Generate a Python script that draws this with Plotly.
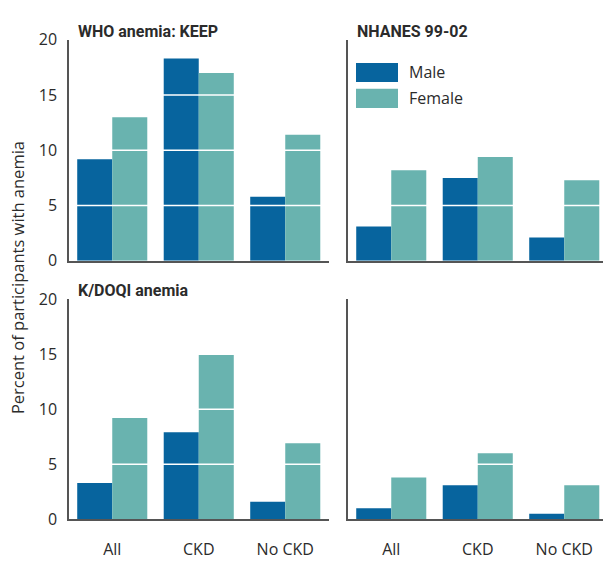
import plotly.graph_objects as go

# Prevalence of anemia (%) by sex, KEEP vs NHANES 99-02
categories = ["All", "CKD", "No CKD"]

who_keep_male = [9.2, 18.3, 5.8]
who_keep_female = [13.0, 17.0, 11.4]
who_nhanes_male = [3.1, 7.5, 2.1]
who_nhanes_female = [8.2, 9.4, 7.3]

kdoqi_keep_male = [3.3, 7.9, 1.6]
kdoqi_keep_female = [9.2, 15.0, 6.9]
kdoqi_nhanes_male = [1.0, 3.1, 0.5]
kdoqi_nhanes_female = [3.8, 6.0, 3.1]

y_ticks = [0, 5, 10, 15, 20]
grid_levels = [5, 10, 15]

panel_titles = ["WHO anemia: KEEP", "NHANES 99-02", "K/DOQI anemia", ""]
series_names = ["Male", "Female"]

MALE = "#07649e"
FEMALE = "#69b3af"
TEXT = "#2b2b2b"
AXIS = "#555555"
W, H = 603, 561

panels = [
    (who_keep_male, who_keep_female),
    (who_nhanes_male, who_nhanes_female),
    (kdoqi_keep_male, kdoqi_keep_female),
    (kdoqi_nhanes_male, kdoqi_nhanes_female),
]

fig = go.Figure()
for i, (male, female) in enumerate(panels):
    suffix = "" if i == 0 else str(i + 1)
    for name, vals, col in ((series_names[0], male, MALE), (series_names[1], female, FEMALE)):
        fig.add_trace(go.Bar(
            x=categories, y=vals, name=name, marker_color=col,
            marker_line_width=0, showlegend=False,
            xaxis="x" + suffix, yaxis="y" + suffix,
        ))


def px_x(v):
    return v / W


def px_y(v):
    return 1 - v / H


left_dom = [px_x(69), px_x(328.5)]
right_dom = [px_x(348), 1.0]
top_dom = [px_y(260), px_y(30)]
bot_dom = [px_y(529), px_y(300)]

doms = [(left_dom, top_dom), (right_dom, top_dom), (left_dom, bot_dom), (right_dom, bot_dom)]
tick_font = dict(family="Open Sans, Noto Sans, sans-serif", size=16, color=TEXT)

layout = dict(
    width=W, height=H,
    margin=dict(l=0, r=0, t=0, b=0),
    paper_bgcolor="white", plot_bgcolor="white",
    barmode="group", bargap=0.19, bargroupgap=0,
    showlegend=False,
    font=tick_font,
)

for i, (xd, yd) in enumerate(doms):
    suffix = "" if i == 0 else str(i + 1)
    right = i % 2 == 1
    bottom = i >= 2
    layout["xaxis" + suffix] = dict(
        domain=xd, anchor="y" + suffix,
        range=[-0.5, 2.448] if right else [-0.5, 2.5],
        type="category", categoryorder="array", categoryarray=categories,
        showline=True, linecolor=AXIS, linewidth=1.5,
        showgrid=False, zeroline=False, ticks="",
        showticklabels=bottom, tickfont=tick_font,
        ticklabelstandoff=15,
        fixedrange=True,
    )
    layout["yaxis" + suffix] = dict(
        domain=yd, anchor="x" + suffix,
        range=[0, 20], tickvals=y_ticks,
        showline=True, linecolor=AXIS, linewidth=1.5,
        showgrid=False, zeroline=False, ticks="",
        showticklabels=not right, tickfont=tick_font,
        ticklabelstandoff=7,
        fixedrange=True,
    )

fig.update_layout(**layout)

# white reference lines drawn over the bars
for i in range(4):
    suffix = "" if i == 0 else str(i + 1)
    for g in grid_levels:
        fig.add_shape(type="line", xref="x" + suffix + " domain", yref="y" + suffix,
                      x0=0, x1=1, y0=g, y1=g, layer="above",
                      line=dict(color="white", width=1.5))

title_font = dict(family="Roboto, Lato, sans-serif", size=16, color=TEXT)
title_pos = [(76, 21), (355, 21), (76, 290.5)]
for text, (tx, ty) in zip(panel_titles, title_pos):
    fig.add_annotation(text="<b>" + text + "</b>", xref="paper", yref="paper",
                       x=px_x(tx), y=px_y(ty), xanchor="left", yanchor="middle",
                       showarrow=False, font=title_font)

# y-axis title shared by both rows
fig.add_annotation(text="Percent of participants with anemia", xref="paper", yref="paper",
                   x=px_x(17), y=px_y(278), textangle=-90, xanchor="center", yanchor="middle",
                   showarrow=False, font=dict(family="Open Sans, sans-serif", size=16.5, color=TEXT))

# legend swatches and labels
legend_rows = [(series_names[0], MALE, 54, 74), (series_names[1], FEMALE, 81, 101)]
for name, col, y0, y1 in legend_rows:
    fig.add_shape(type="rect", xref="paper", yref="paper",
                  x0=px_x(356), x1=px_x(398), y0=px_y(y1), y1=px_y(y0),
                  fillcolor=col, line=dict(width=0), layer="above")
    fig.add_annotation(text=name, xref="paper", yref="paper",
                       x=px_x(407), y=px_y((y0 + y1) / 2), xanchor="left", yanchor="middle",
                       showarrow=False, font=dict(family="Open Sans, sans-serif", size=16, color=TEXT))

fig.write_html("out.html", config=dict(displayModeBar=False))
